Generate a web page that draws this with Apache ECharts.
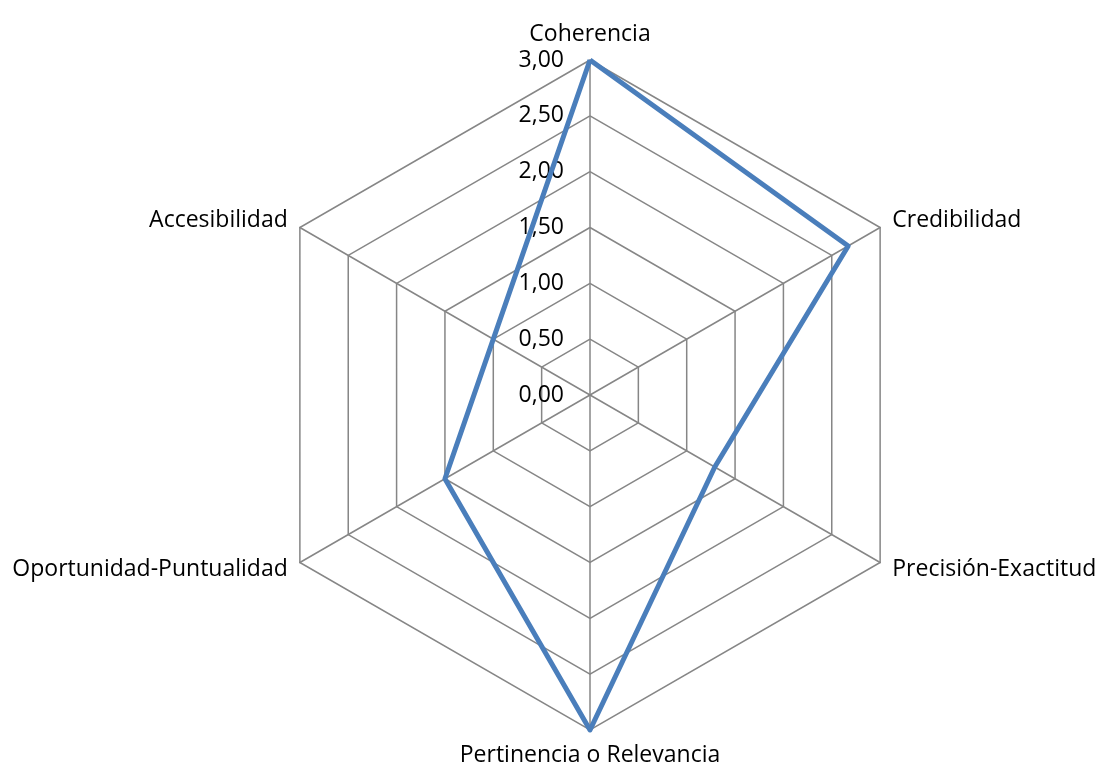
<!DOCTYPE html>
<html>
<head>
<meta charset="utf-8">
<script src="https://cdn.jsdelivr.net/npm/echarts@6/dist/echarts.min.js"></script>
<style>
html,body{margin:0;padding:0;background:#fff;}
#chart{width:1100px;height:769px;}
</style>
</head>
<body>
<div id="chart"></div>
<script>
// Categories listed clockwise starting at the top
const categories = ['Coherencia', 'Credibilidad', 'Precisión-Exactitud', 'Pertinencia o Relevancia', 'Oportunidad-Puntualidad', 'Accesibilidad'];
const values = [3.00, 2.67, 1.29, 3.00, 1.50, 1.00];
const axisMax = 3;
const axisSplits = 6;

// ECharts radar runs counter-clockwise: keep first, reverse the rest
const order = [0].concat(categories.map((_, i) => i).slice(1).reverse());
const orderedCats = order.map(i => categories[i]);
const orderedVals = order.map(i => values[i]);

const chart = echarts.init(document.getElementById('chart'));
const fontFamily = '"Open Sans", sans-serif';
const fmt = v => Number(v).toFixed(2).replace('.', ',');

chart.setOption({
  animation: false,
  backgroundColor: '#ffffff',
  radar: {
    center: [590, 395],
    radius: 335,
    startAngle: 90,
    shape: 'polygon',
    splitNumber: axisSplits,
    axisName: { color: '#000', fontFamily: fontFamily, fontSize: 23 },
    nameGap: 14,
    axisLine: { lineStyle: { color: '#868686', width: 1.5 } },
    splitLine: { lineStyle: { color: '#868686', width: 1.5 } },
    splitArea: { show: false },
    axisTick: { show: false },
    axisLabel: { show: false },
    indicator: orderedCats.map((name, i) => {
      const ind = { name: name, min: 0, max: axisMax };
      if (i === 0) {
        ind.axisLabel = {
          show: true, color: '#000', fontFamily: fontFamily, fontSize: 23,
          margin: 26, formatter: fmt
        };
      }
      return ind;
    })
  },
  series: [{
    type: 'radar',
    symbol: 'none',
    lineStyle: { color: '#4a7ebb', width: 5 },
    data: [{ value: orderedVals }]
  }]
});
</script>
</body>
</html>
